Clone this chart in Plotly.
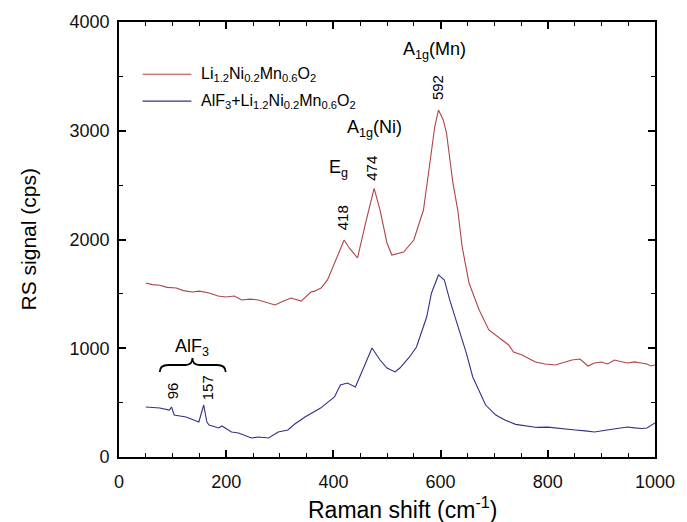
import plotly.graph_objects as go

# ---- data ----
shift_pristine = [50, 62, 76, 90, 107, 120, 137, 150, 168, 185, 199, 215, 229, 245, 260, 279, 291, 305, 321, 340,
                  358, 365, 377, 389, 402, 413, 420, 430, 445, 460, 476, 487, 500, 509, 531, 550, 568, 579, 589, 596,
                  605, 611, 623, 632, 640, 653, 672, 690, 709, 727, 736, 752, 777, 795, 814, 830, 845, 860, 875, 887,
                  900, 912, 924, 948, 962, 974, 985, 992, 1000]
signal_pristine = [1600, 1585, 1580, 1560, 1554, 1530, 1517, 1525, 1508, 1480, 1471, 1480, 1444, 1452, 1444, 1416, 1398, 1430, 1462, 1434,
                   1517, 1525, 1554, 1628, 1784, 1903, 1995, 1920, 1830, 2150, 2470, 2271, 1968, 1857, 1885, 1995, 2271, 2667, 3034, 3190,
                   3099, 2979, 2520, 2271, 1940, 1600, 1352, 1168, 1094, 1030, 966, 938, 874, 855, 846, 870, 892, 901, 837, 864,
                   874, 855, 892, 864, 875, 864, 855, 837, 846]

shift_coated = [50, 76, 94, 98, 103, 125, 149, 158, 164, 168, 186, 192, 210, 223, 247, 260, 279, 297, 315, 328,
                347, 376, 402, 413, 426, 441, 457, 472, 487, 500, 515, 524, 542, 555, 574, 583, 596, 607, 617, 633,
                648, 660, 684, 703, 720, 740, 760, 780, 800, 820, 851, 870, 887, 911, 930, 948, 962, 975, 985, 1000]
signal_coated = [460, 450, 432, 460, 386, 368, 322, 478, 322, 294, 267, 285, 230, 221, 175, 184, 175, 230, 248, 303,
                 368, 450, 552, 662, 680, 644, 828, 1002, 892, 818, 782, 818, 920, 1011, 1287, 1508, 1674, 1628, 1444, 1195,
                 956, 736, 478, 386, 340, 300, 285, 272, 275, 262, 248, 240, 230, 248, 262, 276, 268, 262, 267, 313]

series_names = ["Li<sub>1.2</sub>Ni<sub>0.2</sub>Mn<sub>0.6</sub>O<sub>2</sub>",
                "AlF<sub>3</sub>+Li<sub>1.2</sub>Ni<sub>0.2</sub>Mn<sub>0.6</sub>O<sub>2</sub>"]
series_colors = ["#b04444", "#303088"]

peak_labels = ["592", "474", "418", "157", "96"]

FONT = "Liberation Sans, Arial, sans-serif"

fig = go.Figure()
fig.add_trace(go.Scatter(x=shift_pristine, y=signal_pristine, mode="lines",
                         line=dict(color=series_colors[0], width=1.1), name=series_names[0], showlegend=False))
fig.add_trace(go.Scatter(x=shift_coated, y=signal_coated, mode="lines",
                         line=dict(color=series_colors[1], width=1.1), name=series_names[1], showlegend=False))

# manual legend
leg_y = [0.880, 0.818]
for i in range(2):
    fig.add_shape(type="line", xref="paper", yref="paper", x0=0.044, x1=0.135, y0=leg_y[i], y1=leg_y[i],
                  line=dict(color=series_colors[i], width=1.1))
    fig.add_annotation(xref="paper", yref="paper", x=0.149, y=leg_y[i], text=series_names[i], showarrow=False,
                       xanchor="left", yanchor="middle", font=dict(size=16, color="black", family=FONT))

# peak annotations
fig.add_annotation(x=589, y=3740, text="A<sub>1g</sub>(Mn)", showarrow=False, font=dict(size=18, family=FONT, color="black"))
fig.add_annotation(x=476, y=3020, text="A<sub>1g</sub>(Ni)", showarrow=False, font=dict(size=18, family=FONT, color="black"))
fig.add_annotation(x=410, y=2650, text="E<sub>g</sub>", showarrow=False, font=dict(size=18, family=FONT, color="black"))
fig.add_annotation(x=137, y=1010, text="AlF<sub>3</sub>", showarrow=False, font=dict(size=18, family=FONT, color="black"))

rot_pos = [(593, 3400), (472, 2660), (417, 2200), (164, 640), (100, 610)]
for lab, (px, py) in zip(peak_labels, rot_pos):
    fig.add_annotation(x=px, y=py, text=lab, showarrow=False, textangle=-90,
                       font=dict(size=15, family=FONT, color="black"))

# brace over AlF3 peaks
fig.add_shape(type="path", xref="x", yref="y",
              path="M 76,781 Q 76,846 92,846 L 124,846 Q 137,846 137,910 Q 137,846 150,846 L 183,846 Q 199,846 199,781",
              line=dict(color="black", width=1.8))

# axis titles
fig.add_annotation(xref="paper", yref="paper", x=0.528, y=-0.117, text="Raman shift (cm<sup>-1</sup>)",
                   showarrow=False, xanchor="center", yanchor="middle", font=dict(size=23, family=FONT, color="black"))
fig.add_annotation(xref="paper", yref="paper", x=-0.168, y=0.50, text="RS signal (cps)", textangle=-90,
                   showarrow=False, xanchor="center", yanchor="middle", font=dict(size=21, family=FONT, color="black"))

axis_common = dict(showline=True, linecolor="black", linewidth=1.8, mirror="allticks", ticks="inside",
                   ticklen=7, tickwidth=1.5, tickcolor="black", showgrid=False, zeroline=False,
                   tickfont=dict(size=18, family=FONT, color="#111111"))

fig.update_xaxes(range=[0, 1000], dtick=200, tick0=0, ticklabelstandoff=7,
                 minor=dict(dtick=50, ticks="inside", ticklen=4, tickwidth=1, tickcolor="black"),
                 **axis_common)
fig.update_yaxes(range=[0, 4000], dtick=1000, tick0=0, ticklabelstandoff=4,
                 minor=dict(dtick=500, ticks="inside", ticklen=4, tickwidth=1, tickcolor="black"),
                 **axis_common)

fig.update_layout(width=687, height=522, margin=dict(l=119, r=26, t=22, b=65),
                  paper_bgcolor="white", plot_bgcolor="white", showlegend=False)

fig.write_html("out.html")
